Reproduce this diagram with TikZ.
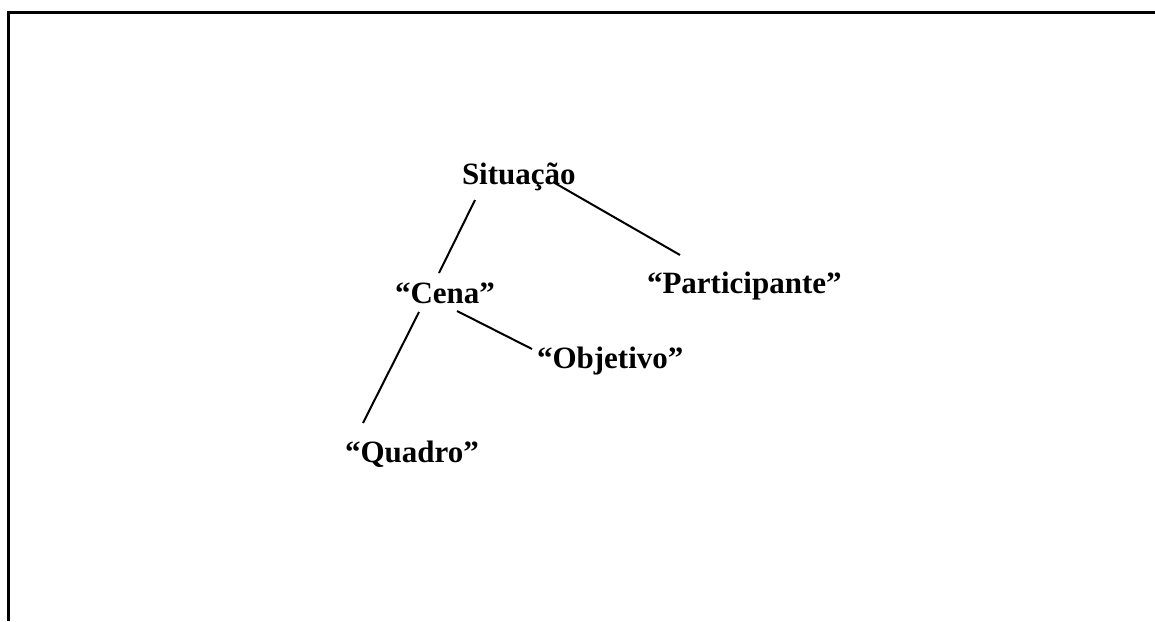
\documentclass[tikz,border=0pt]{standalone}
\usepackage{fontspec}
\setmainfont{Liberation Serif}
\begin{document}
\begin{tikzpicture}[x=1pt,y=-1pt,
  lbl/.style={inner sep=0pt,outer sep=0pt,anchor=base west,font=\fontsize{31}{37}\selectfont\bfseries},
  conn/.style={line width=2pt,black},
  frame/.style={line width=2.2pt,black}]
\useasboundingbox (0,0) rectangle (1155,621);
\coordinate (fb) at (8.5,621);
\coordinate (ftl) at (8.5,12.5);
\coordinate (ftr) at (1155,12.5);
\draw[frame] (fb) -- (ftl) -- (ftr);
\node[lbl] (sit) at (462,184) {Situação};
\node[lbl] (cena) at (395,303) {“Cena”};
\node[lbl] (part) at (647,293) {“Participante”};
\node[lbl] (obj) at (537,368) {“Objetivo”};
\node[lbl] (quad) at (345,462) {“Quadro”};
\draw[conn] ([shift={(13,16)}]sit.base west) -- ([shift={(44,-30)}]cena.base west);
\draw[conn] ([shift={(91,-2)}]sit.base west) -- ([shift={(33,-38)}]part.base west);
\draw[conn] ([shift={(24,9)}]cena.base west) -- ([shift={(18,-39)}]quad.base west);
\draw[conn] ([shift={(62,8)}]cena.base west) -- ([shift={(-5,-19)}]obj.base west);
\end{tikzpicture}
\end{document}
